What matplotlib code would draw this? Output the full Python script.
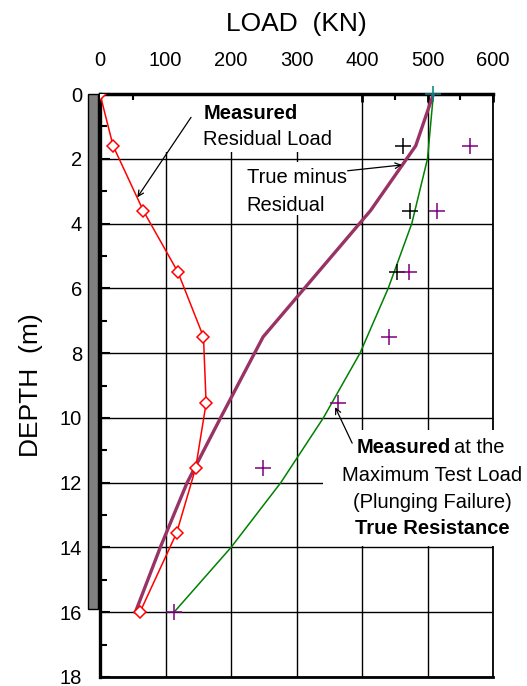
import matplotlib
matplotlib.use("Agg")
import matplotlib.pyplot as plt
from matplotlib.patches import Rectangle
from matplotlib.ticker import MultipleLocator

plt.rcParams["font.family"] = ["Liberation Sans", "DejaVu Sans"]

# depths (m) of the gauge levels
depth = [0, 1.6, 3.6, 5.5, 7.5, 9.55, 11.55, 13.55, 16.0]
residual = [0, 20, 66, 119, 158, 162, 146, 117, 61]

# true minus residual (thick plum line)
tmr_depth = [0, 1.6, 3.6, 7.5, 10.0, 12.0, 14.0, 16.0]
tmr_load = [509, 482, 413, 249, 184, 133, 92, 54]

# true resistance (green line)
true_depth = [0, 2, 4, 6, 8, 10, 12, 14, 16]
true_load = [509, 500, 476, 440, 397, 341, 276, 200, 113]

# measured at maximum test load (purple crosses)
meas_depth = [1.6, 3.6, 5.5, 7.5, 9.55, 11.55, 16.0]
meas_load = [565, 514, 472, 441, 364, 249, 113]

# black crosses
blk_depth = [1.6, 3.6, 5.5]
blk_load = [462, 473, 453]

head_depth = [0]
head_load = [509]

pile_toe = 15.9

fig = plt.figure(figsize=(5.27, 6.86), dpi=100)
ax = fig.add_axes([100 / 527, 1 - 677 / 686, 393 / 527, 583 / 686])

ax.set_xlim(0, 600)
ax.set_ylim(18, 0)
ax.xaxis.tick_top()
ax.xaxis.set_label_position("top")
ax.xaxis.set_major_locator(MultipleLocator(100))
ax.xaxis.set_minor_locator(MultipleLocator(50))
ax.yaxis.set_major_locator(MultipleLocator(2))
ax.yaxis.set_minor_locator(MultipleLocator(1))
ax.grid(True, which="major", color="black", linewidth=1.0)
ax.set_axisbelow(True)

ax.tick_params(axis="x", which="major", direction="in", length=6, width=2,
               pad=17, labelsize=14.5)
ax.tick_params(axis="x", which="minor", direction="in", length=4, width=1.5)
ax.tick_params(axis="y", which="major", direction="in", length=7, width=1.5,
               pad=13, labelsize=14.5)
ax.tick_params(axis="y", which="minor", direction="in", length=5, width=1.5)

ax.spines["top"].set_linewidth(2.5)
ax.spines["left"].set_linewidth(2.4)
ax.spines["bottom"].set_linewidth(2.0)
ax.spines["right"].set_linewidth(1.3)

ax.set_xlabel("LOAD  (KN)", fontsize=19)
ax.xaxis.set_label_coords(0.5, 1.1086)
ax.set_ylabel("DEPTH  (m)", fontsize=19)
ax.yaxis.set_label_coords(-0.175, 0.5)
ax.yaxis.label.set_va("center")

# pile shaft drawn beside the depth axis
ax.add_patch(Rectangle((-18, 0), 15, pile_toe, facecolor="#808080",
                       edgecolor="black", linewidth=1.0, clip_on=False, zorder=3))

# white backgrounds behind the notes
ax.add_patch(Rectangle((80, 0), 290, 1.78, facecolor="white", edgecolor="none", zorder=1))
ax.add_patch(Rectangle((215, 2.09), 175, 1.64, facecolor="white", edgecolor="none", zorder=1))
ax.add_patch(Rectangle((340, 10.37), 320, 3.58, facecolor="white", edgecolor="none",
                       zorder=3, clip_on=False))

ax.plot(true_load, true_depth, color="#008000", linewidth=1.1, zorder=4)
ax.plot(tmr_load, tmr_depth, color="#993366", linewidth=2.4, zorder=4)
ax.plot(residual, depth, color="#ff0000", linewidth=1.1, marker="D", markersize=6.5,
        markerfacecolor="white", markeredgecolor="#ff0000", markeredgewidth=1.1, zorder=5)
ax.plot(blk_load, blk_depth, linestyle="none", marker="+", markersize=11,
        markeredgewidth=1.1, color="black", zorder=6)
ax.plot(meas_load, meas_depth, linestyle="none", marker="+", markersize=11,
        markeredgewidth=1.1, color="#800080", zorder=6, clip_on=False)
ax.plot(head_load, head_depth, linestyle="none", marker="+", markersize=11,
        markeredgewidth=1.1, color="#008080", zorder=6, clip_on=False)

note = dict(fontsize=14.5, va="center", zorder=7)
ax.text(158, 0.6, "Measured", fontweight="bold", ha="left", **note)
ax.text(158, 1.42, "Residual Load", ha="left", **note)
ax.text(224, 2.57, "True minus", ha="left", **note)
ax.text(224, 3.43, "Residual", ha="left", **note)
ax.text(535, 10.92, "Measured", fontweight="bold", ha="right", clip_on=False, **note)
ax.text(541, 10.92, "at the", ha="left", clip_on=False, **note)
ax.text(507, 11.78, "Maximum Test Load", ha="center", clip_on=False, **note)
ax.text(507, 12.61, "(Plunging Failure)", ha="center", clip_on=False, **note)
ax.text(508, 13.43, "True Resistance", fontweight="bold", ha="center", clip_on=False, **note)

arrow = dict(arrowstyle="->", color="black", linewidth=0.9, shrinkA=0, shrinkB=0)
ax.annotate("", xy=(57, 3.19), xytext=(139, 0.72), arrowprops=arrow, zorder=7)
ax.annotate("", xy=(461, 2.19), xytext=(378, 2.37), arrowprops=arrow, zorder=7)
ax.annotate("", xy=(359, 9.67), xytext=(385, 10.78), arrowprops=arrow, zorder=7)

fig.savefig("out.png", dpi=100)
